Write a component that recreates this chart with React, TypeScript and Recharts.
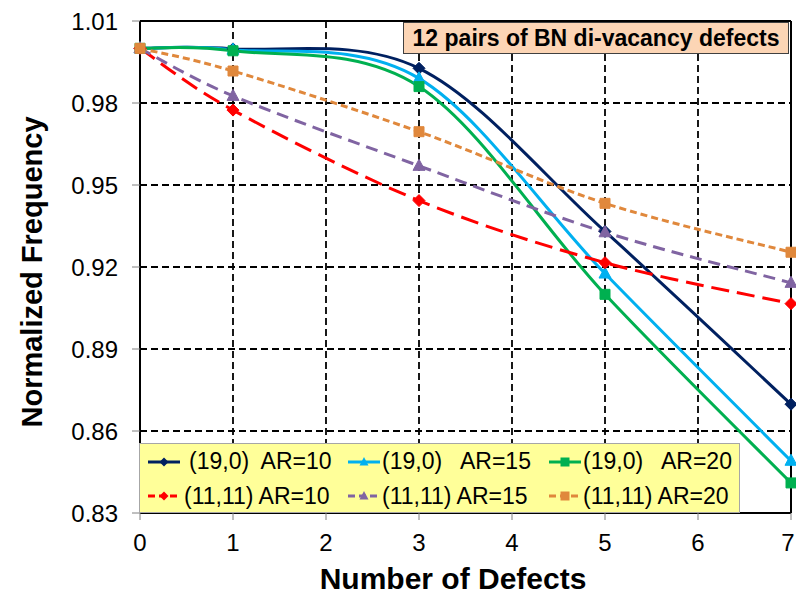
import React from 'react';
import { LineChart, Line, XAxis, YAxis, CartesianGrid, ReferenceLine, Legend } from 'recharts';

const defects = [0, 1, 3, 5, 7];
const zz10 = [1.0, 0.9998, 0.9927, 0.933, 0.8698];
const zz15 = [1.0, 0.9995, 0.989, 0.9176, 0.8491];
const zz20 = [1.0, 0.9991, 0.986, 0.91, 0.841];
const ac10 = [1.0, 0.9774, 0.9443, 0.9216, 0.9066];
const ac15 = [1.0, 0.9826, 0.957, 0.9327, 0.9142];
const ac20 = [1.0, 0.9917, 0.9695, 0.9433, 0.9254];

const xTicks = [0, 1, 2, 3, 4, 5, 6, 7];
const yTicks = [0.83, 0.86, 0.89, 0.92, 0.95, 0.98, 1.01];

const FONT = '"Liberation Sans", Arial, sans-serif';

type Marker = 'diamond' | 'triangle' | 'square';

const SERIES: { key: string; name: string; values: number[]; color: string; marker: Marker; dash?: string }[] = [
  { key: 'zz10', name: '(19,0)  AR=10', values: zz10, color: '#002060', marker: 'diamond' },
  { key: 'zz15', name: '(19,0)   AR=15', values: zz15, color: '#00B0F0', marker: 'triangle' },
  { key: 'zz20', name: '(19,0)   AR=20', values: zz20, color: '#00B050', marker: 'square' },
  { key: 'ac10', name: '(11,11) AR=10', values: ac10, color: '#FF0000', marker: 'diamond', dash: '18 8' },
  { key: 'ac15', name: '(11,11) AR=15', values: ac15, color: '#8064A2', marker: 'triangle', dash: '12 7' },
  { key: 'ac20', name: '(11,11) AR=20', values: ac20, color: '#E0883C', marker: 'square', dash: '7 4' },
];

const data = defects.map((d, i) => {
  const row: Record<string, number> = { defects: d };
  SERIES.forEach(s => { row[s.key] = s.values[i]; });
  return row;
});

// Excel style smoothed line (Catmull-Rom like bezier)
const excelSmooth = (context: any) => {
  let pts: number[][] = [];
  return {
    areaStart() {},
    areaEnd() {},
    lineStart() { pts = []; },
    point(x: number, y: number) { pts.push([+x, +y]); },
    lineEnd() {
      if (!pts.length) return;
      context.moveTo(pts[0][0], pts[0][1]);
      for (let i = 0; i < pts.length - 1; i++) {
        const p0 = pts[i - 1] || pts[i];
        const p1 = pts[i];
        const p2 = pts[i + 1];
        const p3 = pts[i + 2] || p2;
        context.bezierCurveTo(
          p1[0] + (p2[0] - p0[0]) / 6, p1[1] + (p2[1] - p0[1]) / 6,
          p2[0] - (p3[0] - p1[0]) / 6, p2[1] - (p3[1] - p1[1]) / 6,
          p2[0], p2[1]
        );
      }
    },
  };
};

function markerPath(shape: Marker, cx: number, cy: number, r: number) {
  if (shape === 'diamond') return `M${cx},${cy - r}L${cx + r},${cy}L${cx},${cy + r}L${cx - r},${cy}Z`;
  if (shape === 'triangle') return `M${cx},${cy - r * 1.1}L${cx + r},${cy + r * 0.75}L${cx - r},${cy + r * 0.75}Z`;
  return `M${cx - r},${cy - r}h${2 * r}v${2 * r}h${-2 * r}Z`;
}

const makeDot = (shape: Marker, color: string) => (props: any) => {
  const { cx, cy, index } = props;
  if (cx == null || cy == null) return <g key={`d-${index}`} />;
  const r = shape === 'square' ? 5 : 6;
  return <path key={`d-${index}`} d={markerPath(shape, cx, cy, r)} fill={color} stroke={color} strokeWidth={1} />;
};

// keep the last label inside the picture
const XTick = (props: any) => {
  const { x, y, payload } = props;
  const tx = Math.min(x, 788);
  return (
    <text x={tx} y={y} dy="0.71em" textAnchor="middle" fontFamily={FONT} fontSize={24} fill="#000">
      {payload.value}
    </text>
  );
};

const LegendBox = () => (
  <div
    style={{
      width: 601,
      height: 70,
      boxSizing: 'border-box',
      background: '#FFFF99',
      border: '1px solid #a6a6a6',
      display: 'grid',
      gridTemplateColumns: '200px 201px 192px',
      gridTemplateRows: '35px 34px',
      paddingLeft: 7,
      fontFamily: FONT,
      fontSize: 23,
      color: '#000',
    }}
  >
    {SERIES.map((s, i) => (
      <div key={s.key} style={{ display: 'flex', alignItems: 'center', whiteSpace: 'pre' }}>
        <svg width={34} height={16}>
          <line x1={1} y1={8} x2={33} y2={8} stroke={s.color} strokeWidth={3} strokeDasharray={s.dash ? '7 4' : undefined} />
          <path d={markerPath(s.marker, 17, 8, 4.5)} fill={s.color} />
        </svg>
        <span style={{ marginLeft: i === 0 ? 8 : i === 3 ? 3 : 1 }}>{s.name}</span>
      </div>
    ))}
  </div>
);

const YTitle = () => (
  <text
    x={42}
    y={272}
    transform="rotate(-90, 42, 272)"
    textAnchor="middle"
    fontFamily={FONT}
    fontSize={29}
    fontWeight="bold"
    fill="#000"
  >
    Normalized Frequency
  </text>
);

const XTitle = () => (
  <text x={453} y={589} textAnchor="middle" fontFamily={FONT} fontSize={30} fontWeight="bold" fill="#000">
    Number of Defects
  </text>
);

export default function App() {
  return (
    <div style={{ position: 'absolute', left: 0, top: 0, width: 796, height: 598, background: '#fff', fontFamily: FONT }}>
      <LineChart width={796} height={598} data={data} margin={{ top: 21, right: 5, bottom: 0, left: 0 }}>
        <CartesianGrid stroke="#000" strokeDasharray="7 4" strokeWidth={1.8} />
        <XAxis
          type="number"
          dataKey="defects"
          domain={[0, 7]}
          ticks={xTicks}
          interval={0}
          height={85}
          tickSize={7}
          tickMargin={14}
          tick={<XTick />}
          tickLine={{ stroke: '#808080' }}
          axisLine={{ stroke: '#000', strokeWidth: 2 }}
          label={XTitle}
        />
        <YAxis
          type="number"
          domain={[0.83, 1.01]}
          ticks={yTicks}
          interval={0}
          width={140}
          tickSize={8}
          tickMargin={14}
          tickFormatter={(v: number) => v.toFixed(2)}
          tick={{ fontSize: 24, fill: '#000', fontFamily: FONT }}
          tickLine={{ stroke: '#808080' }}
          axisLine={{ stroke: '#000', strokeWidth: 2 }}
          label={YTitle}
        />
        <ReferenceLine y={1.01} stroke="#000" strokeWidth={2} />
        <ReferenceLine x={7} stroke="#000" strokeWidth={2} />
        {SERIES.map(s => (
          <Line
            key={s.key}
            dataKey={s.key}
            name={s.name}
            type={excelSmooth as any}
            stroke={s.color}
            strokeWidth={3}
            strokeDasharray={s.dash}
            dot={makeDot(s.marker, s.color)}
            activeDot={false}
            isAnimationActive={false}
          />
        ))}
        <Legend
          layout="vertical"
          align="center"
          verticalAlign="middle"
          content={() => <LegendBox />}
          wrapperStyle={{ left: 139, top: 443, width: 601, height: 70 }}
        />
      </LineChart>
      <div
        style={{
          position: 'absolute',
          left: 403,
          top: 22,
          width: 386,
          height: 32,
          boxSizing: 'border-box',
          background: '#FCD5B5',
          border: '1px solid #404040',
          fontFamily: FONT,
          fontWeight: 'bold',
          fontSize: 23,
          lineHeight: '30px',
          textAlign: 'center',
          color: '#000',
          whiteSpace: 'nowrap',
        }}
      >
        12 pairs of BN di-vacancy defects
      </div>
    </div>
  );
}
